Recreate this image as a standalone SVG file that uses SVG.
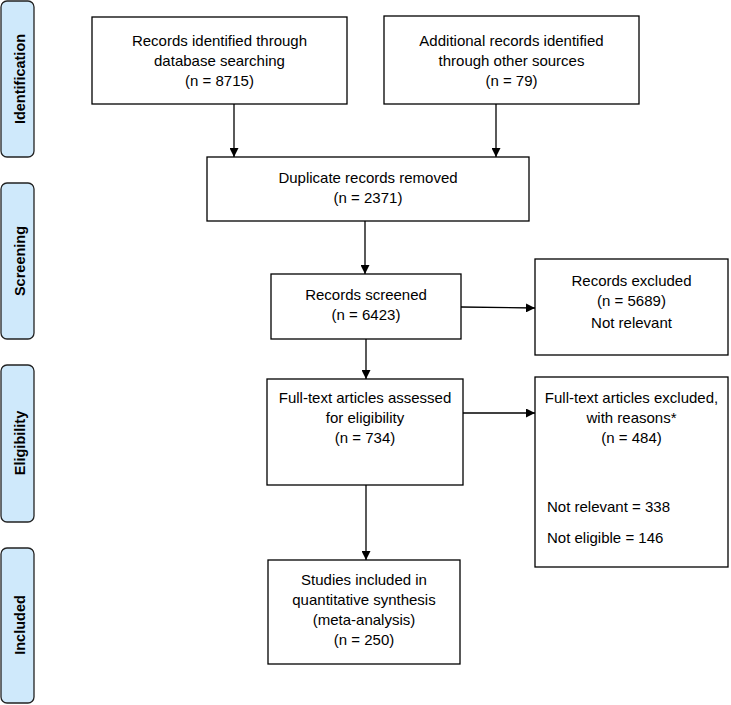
<svg xmlns="http://www.w3.org/2000/svg" width="731" height="705" viewBox="0 0 731 705">
<defs>
<style>
.box{fill:#fff;stroke:#000;stroke-width:1.3}
.side{fill:#cfe9fb;stroke:#222;stroke-width:1.3}
.t{font-family:"Liberation Sans",Arial,sans-serif;font-size:15px;fill:#000;text-anchor:middle}
.l{text-anchor:start}
.s{font-family:"Liberation Sans",Arial,sans-serif;font-size:14.5px;font-weight:bold;fill:#000;text-anchor:middle}
.c{stroke:#000;stroke-width:1.3;fill:none;marker-end:url(#ah)}
</style>
<marker id="ah" viewBox="0 0 10 10" refX="10" refY="5" markerWidth="9" markerHeight="9" markerUnits="userSpaceOnUse" orient="auto">
<path d="M0,0 L10,5 L0,10 z" fill="#000"/>
</marker>
</defs>
<rect width="731" height="705" fill="#fff"/>
<g id="stage-identification"><rect class="side" x="1" y="1" width="33" height="156" rx="6"/><text class="s" transform="translate(24.5,79) rotate(-90)">Identification</text></g>
<g id="stage-screening"><rect class="side" x="1" y="183" width="33" height="156" rx="6"/><text class="s" transform="translate(24.5,261) rotate(-90)">Screening</text></g>
<g id="stage-eligibility"><rect class="side" x="1" y="365" width="33" height="157" rx="6"/><text class="s" transform="translate(24.5,443) rotate(-90)">Eligibility</text></g>
<g id="stage-included"><rect class="side" x="1" y="548" width="33" height="155" rx="6"/><text class="s" transform="translate(24.5,625) rotate(-90)">Included</text></g>

<g id="n-database"><rect class="box" x="92" y="17" width="255" height="87"/>
<text class="t" x="219.5" y="46">Records identified through</text>
<text class="t" x="219.5" y="66">database searching</text>
<text class="t" x="219.5" y="86">(n = 8715)</text></g>
<g id="n-other"><rect class="box" x="384" y="16" width="255" height="88"/>
<text class="t" x="511.5" y="46">Additional records identified</text>
<text class="t" x="511.5" y="66">through other sources</text>
<text class="t" x="511.5" y="86">(n = 79)</text></g>
<g id="n-duplicates"><rect class="box" x="207" y="157" width="322" height="64"/>
<text class="t" x="368" y="183">Duplicate records removed</text>
<text class="t" x="368" y="203">(n = 2371)</text></g>
<g id="n-screened"><rect class="box" x="271" y="274" width="190" height="65"/>
<text class="t" x="366" y="300">Records screened</text>
<text class="t" x="366" y="320">(n = 6423)</text></g>
<g id="n-excluded"><rect class="box" x="535" y="259" width="193" height="96"/>
<text class="t" x="631.5" y="286">Records excluded</text>
<text class="t" x="631.5" y="306">(n = 5689)</text>
<text class="t" x="631.5" y="328">Not relevant</text></g>
<g id="n-fulltext"><rect class="box" x="267" y="379" width="196" height="106"/>
<text class="t" x="365" y="403">Full-text articles assessed</text>
<text class="t" x="365" y="423">for eligibility</text>
<text class="t" x="365" y="443">(n = 734)</text></g>
<g id="n-ft-excluded"><rect class="box" x="535" y="377" width="193" height="190"/>
<text class="t" x="631.5" y="403">Full-text articles excluded,</text>
<text class="t" x="631.5" y="423">with reasons*</text>
<text class="t" x="631.5" y="443">(n = 484)</text>
<text class="t l" x="547" y="512">Not relevant = 338</text>
<text class="t l" x="547" y="543">Not eligible = 146</text></g>
<g id="n-included"><rect class="box" x="268" y="560" width="192" height="104"/>
<text class="t" x="364" y="585">Studies included in</text>
<text class="t" x="364" y="605">quantitative synthesis</text>
<text class="t" x="364" y="625">(meta-analysis)</text>
<text class="t" x="364" y="645">(n = 250)</text></g>

<g id="connectors">
<line class="c" x1="234" y1="104" x2="234" y2="157"/>
<line class="c" x1="496" y1="104" x2="496" y2="157"/>
<line class="c" x1="365" y1="221" x2="365" y2="274"/>
<line class="c" x1="461" y1="307" x2="535" y2="308"/>
<line class="c" x1="366" y1="339" x2="366" y2="379"/>
<line class="c" x1="463" y1="413" x2="535" y2="413"/>
<line class="c" x1="366" y1="485" x2="366" y2="560"/>
</g>
</svg>
